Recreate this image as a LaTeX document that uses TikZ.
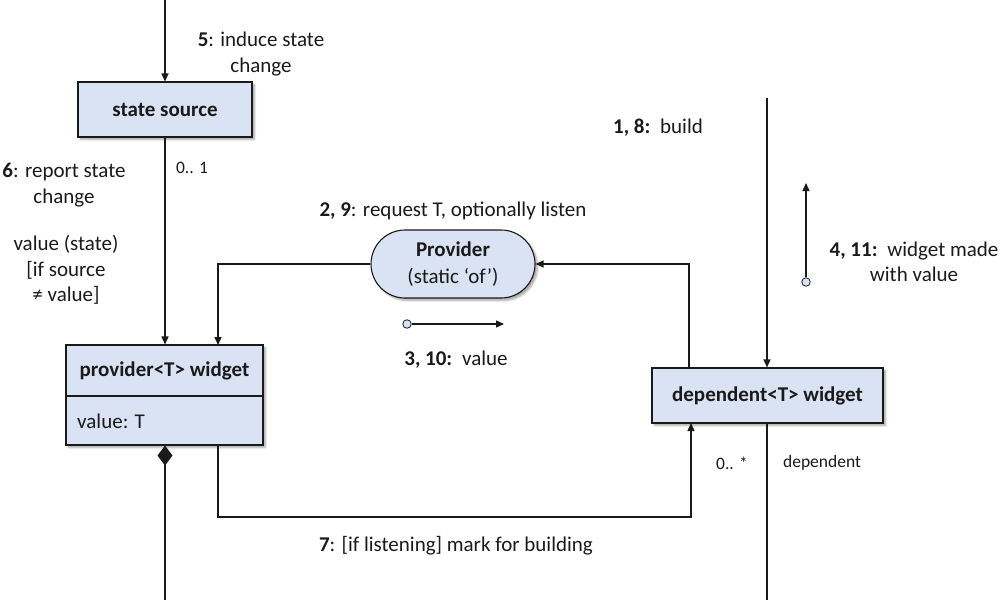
\documentclass[tikz,border=0pt]{standalone}
\usepackage{fontspec}
\setmainfont{Carlito}
\usetikzlibrary{arrows.meta,shadows.blur}
\definecolor{boxfill}{HTML}{DAE3F3}
\definecolor{ink}{HTML}{1A1A1A}
\tikzset{
  box/.style={draw=ink, line width=1.1pt, fill=boxfill, rectangle, inner sep=0pt,
    blur shadow={shadow xshift=2.5pt, shadow yshift=-2.5pt, shadow blur steps=6, shadow opacity=35}},
  lbl/.style={font=\fontsize{21}{25.5}\selectfont, align=center, inner sep=0pt, text=ink},
  title/.style={font=\fontsize{21}{24}\selectfont\bfseries, align=center, inner sep=0pt, text=ink},
  small/.style={font=\fontsize{17.5}{20}\selectfont, inner sep=0pt, text=ink},
  conn/.style={draw=ink, line width=1.4pt, -{Triangle[length=8pt,width=7pt]}},
  plain/.style={draw=ink, line width=1.4pt},
  dot/.style={circle, draw=ink, fill=boxfill, line width=0.8pt, minimum size=8.5pt, inner sep=0pt},
}
\begin{document}
\begin{tikzpicture}[x=1pt,y=-1pt]
\useasboundingbox (0,0) rectangle (1008,600);

% classes
\node[box, minimum width=174pt, minimum height=55pt] (src) at (165,109.5) {};
\node[title] (srct) at (src.center) {state source};

\node[box, minimum width=197pt, minimum height=100pt] (pw) at (164.5,395) {};
\node[title] (pwt) at (164.5,371) {provider<T> widget};
\node[lbl, anchor=west] (pwv) at (77,421) {value: T};
\coordinate (divl) at (66,396);
\coordinate (divr) at (263,396);
\draw[draw=ink, line width=1.1pt] (divl) -- (divr);

\node[box, minimum width=231pt, minimum height=55pt] (dep) at (767.5,395.5) {};
\node[title] (dept) at (dep.center) {dependent<T> widget};

\node[box, minimum width=164pt, minimum height=68pt, rounded corners=34pt] (prov) at (453,264) {};
\node[lbl, font=\fontsize{21}{27}\selectfont] (provt) at (prov.center) {\textbf{Provider}\\(static ‘of’)};

% free ends
\coordinate (topsrc) at (165,0);
\coordinate (botpw) at (165,600);
\coordinate (topdep) at (767,98);
\coordinate (botdep) at (767,600);

% connectors
\draw[conn] (topsrc) -- (src.north);
\draw[conn] (src.south) -- (src.south |- pw.north);
\draw[conn] (prov.west) -| (218,345);
\draw[conn] (689,368) |- (prov.east);
\draw[conn] (topdep) -- (topdep |- dep.north);
\draw[plain] (dep.south -| botdep) -- (botdep);
\draw[plain, {Diamond[length=20pt,width=15pt]}-] (pw.south -| botpw) -- (botpw);
\draw[conn] (218,445) -- (218,517) -| (691,423);

% message arrows
\node[dot] (d1) at (407,324) {};
\coordinate (d1e) at (504,324);
\draw[conn] (d1) -- (d1e);
\node[dot] (d2) at (806,282) {};
\coordinate (d2e) at (806,183);
\draw[conn] (d2) -- (d2e);

% labels
\node[lbl] (l5) at (261,54) {\textbf{5}: induce state\\change};
\node[small] (l01) at (192,168) {0.. 1};
\node[lbl] (l6) at (64,185) {\textbf{6}: report state\\change};
\node[lbl] (lv) at (66,270) {value (state)\\{}[if source\\≠ value]};
\node[lbl] (l29) at (453,211) {\textbf{2, 9}: request T, optionally listen};
\node[lbl] (l310) at (456,360) {\textbf{3, 10:}\, value};
\node[lbl] (l18) at (658,128) {\textbf{1, 8:}\, build};
\node[lbl] (l411) at (914,262) {\textbf{4, 11:}\, widget made\\with value};
\node[small] (l0s) at (732,463) {0.. *};
\node[small] (ldep) at (822,463) {dependent};
\node[lbl] (l7) at (456,546) {\textbf{7}: [if listening] mark for building};
\end{tikzpicture}
\end{document}
